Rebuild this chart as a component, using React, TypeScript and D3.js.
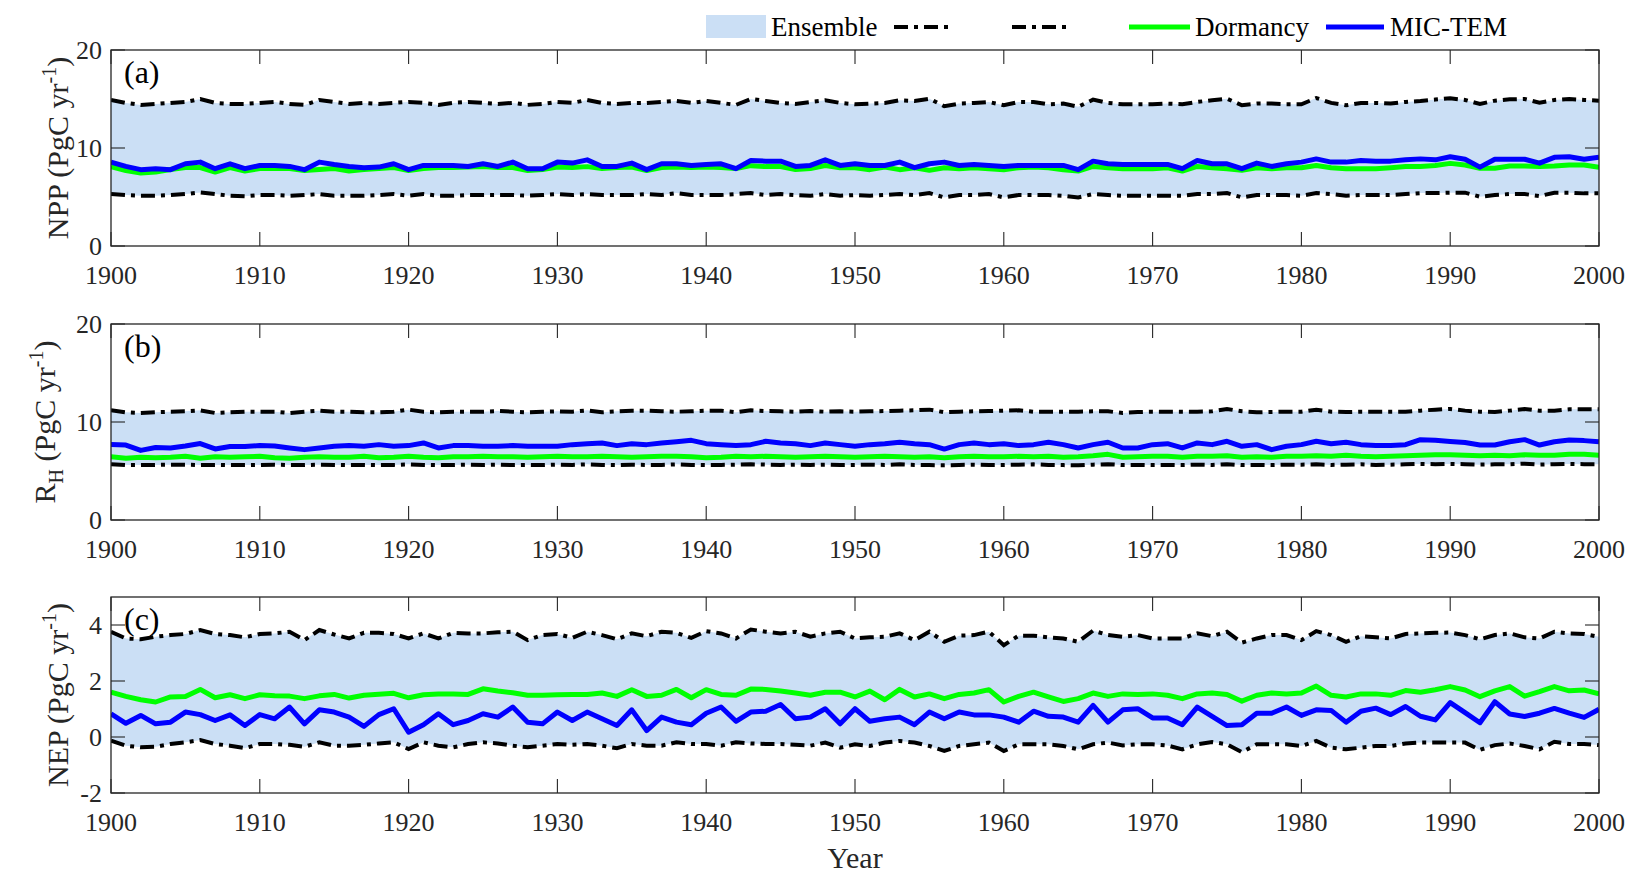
import React from 'react';
import * as d3 from 'd3';

// yearly series, 1900..2000
const years = d3.range(1900, 2001);
const xTicks = [1900, 1910, 1920, 1930, 1940, 1950, 1960, 1970, 1980, 1990, 2000];

// (a) NPP
const nppHi = [
  14.9, 14.6, 14.4, 14.5, 14.6, 14.7, 15.0, 14.6, 14.5, 14.5,
  14.6, 14.7, 14.5, 14.4, 14.9, 14.7, 14.5, 14.6, 14.5, 14.6,
  14.7, 14.6, 14.4, 14.6, 14.7, 14.6, 14.5, 14.6, 14.4, 14.5,
  14.7, 14.6, 14.9, 14.6, 14.5, 14.6, 14.6, 14.7, 14.8, 14.6,
  14.8, 14.6, 14.4, 15.0, 14.8, 14.6, 14.5, 14.7, 14.87, 14.6,
  14.46, 14.53, 14.6, 14.87, 14.8, 15.03, 14.26, 14.53, 14.6, 14.7,
  14.36, 14.7, 14.7, 14.46, 14.53, 14.2, 14.94, 14.6, 14.46, 14.46,
  14.46, 14.53, 14.46, 14.7, 14.87, 15.03, 14.36, 14.53, 14.53, 14.46,
  14.46, 15.1, 14.6, 14.36, 14.6, 14.6, 14.53, 14.7, 14.8, 14.94,
  15.07, 14.9, 14.49, 14.83, 14.97, 15.0, 14.63, 14.9, 15.0, 14.9,
  14.83,
];
const nppLo = [
  5.3, 5.2, 5.13, 5.13, 5.2, 5.3, 5.47, 5.3, 5.13, 5.07,
  5.2, 5.2, 5.13, 5.2, 5.3, 5.13, 5.13, 5.13, 5.2, 5.3,
  5.13, 5.3, 5.13, 5.13, 5.2, 5.2, 5.2, 5.2, 5.13, 5.2,
  5.3, 5.2, 5.3, 5.2, 5.2, 5.2, 5.3, 5.2, 5.4, 5.2,
  5.2, 5.2, 5.3, 5.4, 5.2, 5.3, 5.2, 5.13, 5.3, 5.13,
  5.2, 5.13, 5.2, 5.3, 5.2, 5.4, 4.96, 5.2, 5.2, 5.3,
  4.96, 5.2, 5.2, 5.2, 5.13, 4.96, 5.3, 5.2, 5.13, 5.13,
  5.13, 5.13, 5.13, 5.3, 5.3, 5.4, 4.96, 5.2, 5.2, 5.2,
  5.13, 5.4, 5.3, 5.13, 5.2, 5.2, 5.2, 5.3, 5.4, 5.4,
  5.44, 5.44, 5.03, 5.2, 5.3, 5.3, 5.1, 5.44, 5.44, 5.37,
  5.37,
];
const nppDorm = [
  8.1, 7.7, 7.45, 7.55, 7.8, 8.0, 8.0, 7.55, 8.0, 7.65,
  7.9, 7.9, 7.9, 7.7, 7.8, 7.9, 7.65, 7.8, 7.9, 8.0,
  7.7, 7.9, 8.0, 8.0, 8.05, 8.1, 8.0, 8.0, 7.7, 7.8,
  8.05, 8.0, 8.1, 7.9, 8.0, 8.05, 7.7, 8.0, 8.05, 8.0,
  8.05, 8.0, 7.9, 8.2, 8.1, 8.1, 7.8, 7.9, 8.22, 7.99,
  7.99, 7.79, 8.05, 7.79, 7.99, 7.72, 7.99, 7.89, 7.99, 7.89,
  7.79, 7.99, 8.05, 7.99, 7.79, 7.65, 8.12, 7.99, 7.89, 7.89,
  7.89, 7.99, 7.65, 8.12, 7.99, 7.89, 7.72, 7.99, 7.89, 7.99,
  7.99, 8.22, 7.99, 7.89, 7.89, 7.89, 7.99, 8.12, 8.12, 8.22,
  8.43, 8.27, 7.93, 7.93, 8.16, 8.16, 8.1, 8.16, 8.27, 8.27,
  8.03,
];
const nppMic = [
  8.56, 8.12, 7.79, 7.89, 7.79, 8.39, 8.56, 7.89, 8.39, 7.89,
  8.22, 8.22, 8.12, 7.79, 8.56, 8.32, 8.12, 7.99, 8.05, 8.39,
  7.79, 8.22, 8.22, 8.22, 8.12, 8.39, 8.12, 8.56, 7.89, 7.89,
  8.56, 8.46, 8.79, 8.12, 8.12, 8.46, 7.79, 8.39, 8.39, 8.22,
  8.32, 8.39, 7.89, 8.72, 8.66, 8.66, 8.12, 8.22, 8.79, 8.22,
  8.39, 8.22, 8.22, 8.56, 7.99, 8.39, 8.56, 8.22, 8.32, 8.22,
  8.12, 8.22, 8.22, 8.22, 8.22, 7.79, 8.66, 8.39, 8.32, 8.32,
  8.32, 8.32, 7.89, 8.72, 8.39, 8.39, 7.89, 8.46, 8.12, 8.39,
  8.56, 8.89, 8.56, 8.56, 8.72, 8.66, 8.66, 8.79, 8.89, 8.79,
  9.1, 8.85, 8.05, 8.85, 8.85, 8.85, 8.45, 9.05, 9.1, 8.85,
  9.05,
];

// (b) RH
const rhHi = [
  11.19, 10.99, 10.92, 10.99, 11.05, 11.09, 11.19, 10.92, 10.99, 11.05,
  11.05, 11.05, 10.92, 11.05, 11.16, 11.05, 11.05, 10.99, 10.99, 11.05,
  11.26, 11.05, 10.99, 11.05, 11.05, 11.05, 11.12, 11.05, 10.99, 11.05,
  11.09, 11.05, 11.19, 10.99, 11.09, 11.16, 11.16, 11.09, 11.05, 11.09,
  11.16, 11.16, 10.99, 11.19, 11.12, 11.09, 11.05, 11.12, 11.05, 11.09,
  11.05, 11.09, 11.12, 11.16, 11.19, 11.26, 10.99, 11.05, 11.09, 11.12,
  11.16, 11.19, 11.05, 11.05, 11.05, 11.05, 11.09, 11.09, 10.92, 11.02,
  11.05, 11.05, 11.05, 11.05, 11.09, 11.33, 11.09, 10.99, 11.02, 11.05,
  11.05, 11.26, 11.05, 11.02, 11.05, 11.05, 11.05, 11.05, 11.16, 11.26,
  11.33, 11.16, 11.05, 11.02, 11.16, 11.33, 11.16, 11.16, 11.3, 11.29,
  11.29,
];
const rhLo = [
  5.7, 5.6, 5.6, 5.62, 5.65, 5.65, 5.6, 5.62, 5.6, 5.6,
  5.62, 5.65, 5.6, 5.6, 5.65, 5.62, 5.6, 5.62, 5.6, 5.62,
  5.68, 5.62, 5.6, 5.62, 5.65, 5.62, 5.65, 5.6, 5.62, 5.6,
  5.65, 5.62, 5.68, 5.62, 5.6, 5.65, 5.62, 5.62, 5.68, 5.62,
  5.6, 5.62, 5.65, 5.68, 5.65, 5.62, 5.65, 5.62, 5.65, 5.6,
  5.62, 5.65, 5.62, 5.68, 5.62, 5.6, 5.58, 5.62, 5.65, 5.62,
  5.62, 5.65, 5.68, 5.62, 5.6, 5.58, 5.65, 5.7, 5.6, 5.62,
  5.6, 5.62, 5.6, 5.65, 5.62, 5.7, 5.6, 5.62, 5.6, 5.65,
  5.65, 5.68, 5.62, 5.65, 5.68, 5.62, 5.65, 5.68, 5.72, 5.7,
  5.72, 5.7, 5.65, 5.68, 5.68, 5.75, 5.65, 5.7, 5.72, 5.7,
  5.7,
];
const rhDorm = [
  6.45, 6.3, 6.4, 6.35, 6.4, 6.5, 6.3, 6.45, 6.4, 6.45,
  6.5, 6.35, 6.3, 6.4, 6.45, 6.4, 6.4, 6.5, 6.35, 6.4,
  6.5, 6.4, 6.35, 6.45, 6.45, 6.5, 6.45, 6.45, 6.4, 6.45,
  6.5, 6.45, 6.45, 6.5, 6.45, 6.4, 6.45, 6.5, 6.5, 6.45,
  6.35, 6.4, 6.5, 6.45, 6.5, 6.45, 6.4, 6.45, 6.5, 6.45,
  6.4, 6.45, 6.5, 6.45, 6.4, 6.45, 6.35, 6.45, 6.5, 6.45,
  6.45, 6.5, 6.45, 6.5, 6.4, 6.45, 6.55, 6.7, 6.4, 6.45,
  6.5, 6.5, 6.4, 6.5, 6.5, 6.55, 6.4, 6.45, 6.4, 6.5,
  6.5, 6.55, 6.5, 6.6, 6.5, 6.45, 6.5, 6.55, 6.6, 6.65,
  6.65, 6.6, 6.55, 6.6, 6.55, 6.65, 6.6, 6.6, 6.7, 6.7,
  6.6,
];
const rhMic = [
  7.7, 7.65, 7.1, 7.4, 7.35, 7.55, 7.8, 7.25, 7.5, 7.5,
  7.59, 7.55, 7.35, 7.18, 7.35, 7.52, 7.59, 7.52, 7.69, 7.52,
  7.59, 7.86, 7.35, 7.59, 7.59, 7.52, 7.52, 7.59, 7.52, 7.52,
  7.52, 7.69, 7.79, 7.86, 7.59, 7.79, 7.69, 7.86, 7.99, 8.13,
  7.79, 7.69, 7.59, 7.69, 8.03, 7.86, 7.79, 7.59, 7.86, 7.69,
  7.52, 7.69, 7.79, 7.93, 7.79, 7.69, 7.24, 7.69, 7.86, 7.69,
  7.79, 7.59, 7.69, 7.93, 7.69, 7.35, 7.69, 7.93, 7.35, 7.35,
  7.69, 7.79, 7.35, 7.86, 7.69, 8.03, 7.52, 7.69, 7.18, 7.52,
  7.69, 8.03, 7.79, 7.93, 7.69, 7.59, 7.59, 7.69, 8.2, 8.13,
  8.0, 7.9, 7.65, 7.65, 7.99, 8.2, 7.65, 7.99, 8.16, 8.1,
  7.99,
];

// (c) NEP
const nepHi = [
  3.76, 3.52, 3.49, 3.58, 3.64, 3.68, 3.82, 3.68, 3.64, 3.56,
  3.68, 3.70, 3.76, 3.46, 3.82, 3.66, 3.52, 3.72, 3.72, 3.68,
  3.52, 3.70, 3.52, 3.72, 3.70, 3.70, 3.74, 3.76, 3.46, 3.64,
  3.68, 3.54, 3.76, 3.64, 3.49, 3.70, 3.60, 3.76, 3.72, 3.54,
  3.78, 3.70, 3.52, 3.84, 3.76, 3.70, 3.76, 3.58, 3.70, 3.76,
  3.52, 3.56, 3.58, 3.70, 3.46, 3.76, 3.40, 3.62, 3.64, 3.76,
  3.28, 3.62, 3.62, 3.56, 3.52, 3.40, 3.80, 3.64, 3.58, 3.64,
  3.52, 3.52, 3.52, 3.70, 3.60, 3.76, 3.37, 3.52, 3.64, 3.64,
  3.46, 3.78, 3.64, 3.40, 3.60, 3.56, 3.52, 3.68, 3.70, 3.72,
  3.73, 3.64, 3.49, 3.64, 3.70, 3.56, 3.52, 3.76, 3.70, 3.68,
  3.58,
];
const nepLo = [
  -0.13, -0.31, -0.37, -0.35, -0.25, -0.19, -0.11, -0.25, -0.31, -0.40,
  -0.25, -0.25, -0.28, -0.35, -0.19, -0.31, -0.31, -0.28, -0.23, -0.19,
  -0.43, -0.19, -0.31, -0.37, -0.25, -0.19, -0.23, -0.31, -0.37, -0.31,
  -0.25, -0.28, -0.25, -0.31, -0.40, -0.25, -0.31, -0.31, -0.19, -0.25,
  -0.25, -0.31, -0.19, -0.23, -0.25, -0.25, -0.28, -0.31, -0.20, -0.38,
  -0.26, -0.32, -0.20, -0.14, -0.20, -0.32, -0.50, -0.32, -0.26, -0.20,
  -0.50, -0.26, -0.26, -0.26, -0.32, -0.44, -0.26, -0.20, -0.30, -0.26,
  -0.26, -0.30, -0.44, -0.26, -0.18, -0.26, -0.54, -0.26, -0.26, -0.26,
  -0.32, -0.14, -0.38, -0.44, -0.38, -0.32, -0.32, -0.23, -0.20, -0.20,
  -0.20, -0.20, -0.46, -0.29, -0.23, -0.32, -0.44, -0.17, -0.25, -0.25,
  -0.29,
];
const nepDorm = [
  1.60, 1.45, 1.33, 1.25, 1.43, 1.45, 1.70, 1.40, 1.51, 1.37,
  1.51, 1.47, 1.46, 1.37, 1.47, 1.52, 1.39, 1.49, 1.53, 1.56,
  1.40, 1.51, 1.54, 1.54, 1.52, 1.72, 1.64, 1.58, 1.49, 1.49,
  1.51, 1.52, 1.52, 1.57, 1.45, 1.69, 1.45, 1.49, 1.70, 1.40,
  1.69, 1.52, 1.49, 1.71, 1.70, 1.64, 1.57, 1.49, 1.60, 1.60,
  1.43, 1.64, 1.33, 1.70, 1.43, 1.54, 1.37, 1.52, 1.57, 1.69,
  1.25, 1.45, 1.60, 1.43, 1.27, 1.37, 1.57, 1.45, 1.54, 1.52,
  1.54, 1.49, 1.37, 1.54, 1.57, 1.52, 1.28, 1.49, 1.57, 1.54,
  1.57, 1.82, 1.49, 1.43, 1.54, 1.54, 1.49, 1.66, 1.60, 1.69,
  1.80, 1.68, 1.44, 1.65, 1.80, 1.46, 1.62, 1.80, 1.65, 1.68,
  1.54,
];
const nepMic = [
  0.83, 0.49, 0.77, 0.47, 0.53, 0.89, 0.80, 0.59, 0.79, 0.41,
  0.80, 0.65, 1.07, 0.47, 0.97, 0.89, 0.71, 0.38, 0.80, 1.01,
  0.17, 0.44, 0.83, 0.44, 0.59, 0.83, 0.71, 1.07, 0.53, 0.47,
  0.89, 0.59, 0.89, 0.65, 0.41, 0.97, 0.23, 0.71, 0.53, 0.44,
  0.85, 1.07, 0.56, 0.89, 0.92, 1.16, 0.65, 0.71, 1.01, 0.47,
  1.01, 0.56, 0.65, 0.71, 0.44, 0.89, 0.65, 0.89, 0.79, 0.79,
  0.71, 0.53, 0.92, 0.74, 0.71, 0.53, 1.13, 0.53, 0.97, 1.01,
  0.68, 0.68, 0.44, 1.07, 0.74, 0.41, 0.44, 0.85, 0.85, 1.07,
  0.77, 0.97, 0.95, 0.53, 0.92, 1.03, 0.80, 1.09, 0.74, 0.61,
  1.23, 0.87, 0.51, 1.26, 0.82, 0.73, 0.85, 1.02, 0.85, 0.70,
  0.99,
];

const FONT = '"Liberation Serif", "Times New Roman", serif';
const INK = '#262626';
const BAND = '#cbdff5';
const GREEN = '#00ff00';
const BLUE = '#0000ff';
const DASH = '14 6 4 6';

const W = 1644;
const H = 884;
const X0 = 111;
const X1 = 1599;
const PH = 196;
const TICK = 14;

const x = d3.scaleLinear().domain([1900, 2000]).range([X0, X1]);

interface PanelDef {
  id: string;
  top: number;
  domain: [number, number];
  ticks: number[];
  tag: string;
  hi: number[];
  lo: number[];
  dorm: number[];
  mic: number[];
  label: React.ReactNode;
  labelX: number;
}

const supUnit = (
  <>
    {' (PgC yr'}
    <tspan dy={-12} fontSize={20}>-1</tspan>
    <tspan dy={12}>)</tspan>
  </>
);

const panels: PanelDef[] = [
  {
    id: 'a', top: 50, domain: [0, 20], ticks: [0, 10, 20], tag: '(a)',
    hi: nppHi, lo: nppLo, dorm: nppDorm, mic: nppMic,
    label: <>NPP{supUnit}</>, labelX: 68,
  },
  {
    id: 'b', top: 324, domain: [0, 20], ticks: [0, 10, 20], tag: '(b)',
    hi: rhHi, lo: rhLo, dorm: rhDorm, mic: rhMic,
    label: (
      <>
        R<tspan dy={8} fontSize={20}>H</tspan>
        <tspan dy={-8}>{' (PgC yr'}</tspan>
        <tspan dy={-12} fontSize={20}>-1</tspan>
        <tspan dy={12}>)</tspan>
      </>
    ),
    labelX: 55,
  },
  {
    id: 'c', top: 597, domain: [-2, 5], ticks: [-2, 0, 2, 4], tag: '(c)',
    hi: nepHi, lo: nepLo, dorm: nepDorm, mic: nepMic,
    label: <>NEP{supUnit}</>, labelX: 68,
  },
];

const Panel: React.FC<{ p: PanelDef }> = ({ p }) => {
  const bottom = p.top + PH;
  const y = d3.scaleLinear().domain(p.domain).range([bottom, p.top]);
  const band = d3.area<number>()
    .x((_, i) => x(years[i]))
    .y0((_, i) => y(p.lo[i]))
    .y1((_, i) => y(p.hi[i]));
  const line = d3.line<number>()
    .x((_, i) => x(years[i]))
    .y(d => y(d));
  const clip = `clip-${p.id}`;

  return (
    <g>
      <defs>
        <clipPath id={clip}>
          <rect x={X0} y={p.top} width={X1 - X0} height={PH} />
        </clipPath>
      </defs>
      <g clipPath={`url(#${clip})`}>
        <path d={band(p.hi) ?? ''} fill={BAND} />
        <path d={line(p.hi) ?? ''} fill="none" stroke="#000" strokeWidth={4} strokeDasharray={DASH} />
        <path d={line(p.lo) ?? ''} fill="none" stroke="#000" strokeWidth={4} strokeDasharray={DASH} />
        <path d={line(p.dorm) ?? ''} fill="none" stroke={GREEN} strokeWidth={5} strokeLinejoin="round" />
        <path d={line(p.mic) ?? ''} fill="none" stroke={BLUE} strokeWidth={5} strokeLinejoin="round" />
      </g>

      {/* box + inward ticks on all sides */}
      <rect x={X0} y={p.top} width={X1 - X0} height={PH} fill="none" stroke={INK} strokeWidth={1.3} />
      {xTicks.map(t => (
        <g key={`xt${t}`} stroke={INK} strokeWidth={1.1}>
          <line x1={x(t)} x2={x(t)} y1={bottom} y2={bottom - TICK} />
          <line x1={x(t)} x2={x(t)} y1={p.top} y2={p.top + TICK} />
        </g>
      ))}
      {p.ticks.map(t => (
        <g key={`yt${t}`} stroke={INK} strokeWidth={1.1}>
          <line x1={X0} x2={X0 + TICK} y1={y(t)} y2={y(t)} />
          <line x1={X1} x2={X1 - TICK} y1={y(t)} y2={y(t)} />
        </g>
      ))}

      <g fontFamily={FONT} fontSize={26} fill={INK}>
        {xTicks.map(t => (
          <text key={`xl${t}`} x={x(t)} y={bottom + 38} textAnchor="middle">{t}</text>
        ))}
        {p.ticks.map(t => (
          <text key={`yl${t}`} x={X0 - 9} y={y(t) + 9} textAnchor="end">{t}</text>
        ))}
      </g>

      <text x={X0 + 13} y={p.top + 33} fontFamily={FONT} fontSize={32} fill="#000">{p.tag}</text>

      <text
        transform={`translate(${p.labelX},${p.top + PH / 2}) rotate(-90)`}
        textAnchor="middle"
        fontFamily={FONT}
        fontSize={30}
        fill={INK}
      >
        {p.label}
      </text>
    </g>
  );
};

const Legend: React.FC = () => (
  <g fontFamily={FONT} fontSize={27} fill="#000">
    <rect x={706} y={15} width={60} height={23} fill={BAND} />
    <text x={771} y={36}>Ensemble</text>
    <line x1={894} x2={952} y1={27} y2={27} stroke="#000" strokeWidth={4} strokeDasharray={DASH} />
    <line x1={1012} x2={1071} y1={27} y2={27} stroke="#000" strokeWidth={4} strokeDasharray={DASH} />
    <line x1={1129} x2={1190} y1={27} y2={27} stroke={GREEN} strokeWidth={5} />
    <text x={1195} y={36}>Dormancy</text>
    <line x1={1326} x2={1384} y1={27} y2={27} stroke={BLUE} strokeWidth={5} />
    <text x={1390} y={36}>MIC-TEM</text>
  </g>
);

export default function App() {
  return (
    <svg
      width={W}
      height={H}
      viewBox={`0 0 ${W} ${H}`}
      style={{ position: 'absolute', left: 0, top: 0, background: '#fff' }}
    >
      <Legend />
      {panels.map(p => <Panel key={p.id} p={p} />)}
      <text x={(X0 + X1) / 2} y={868} textAnchor="middle" fontFamily={FONT} fontSize={30} fill={INK}>Year</text>
    </svg>
  );
}
